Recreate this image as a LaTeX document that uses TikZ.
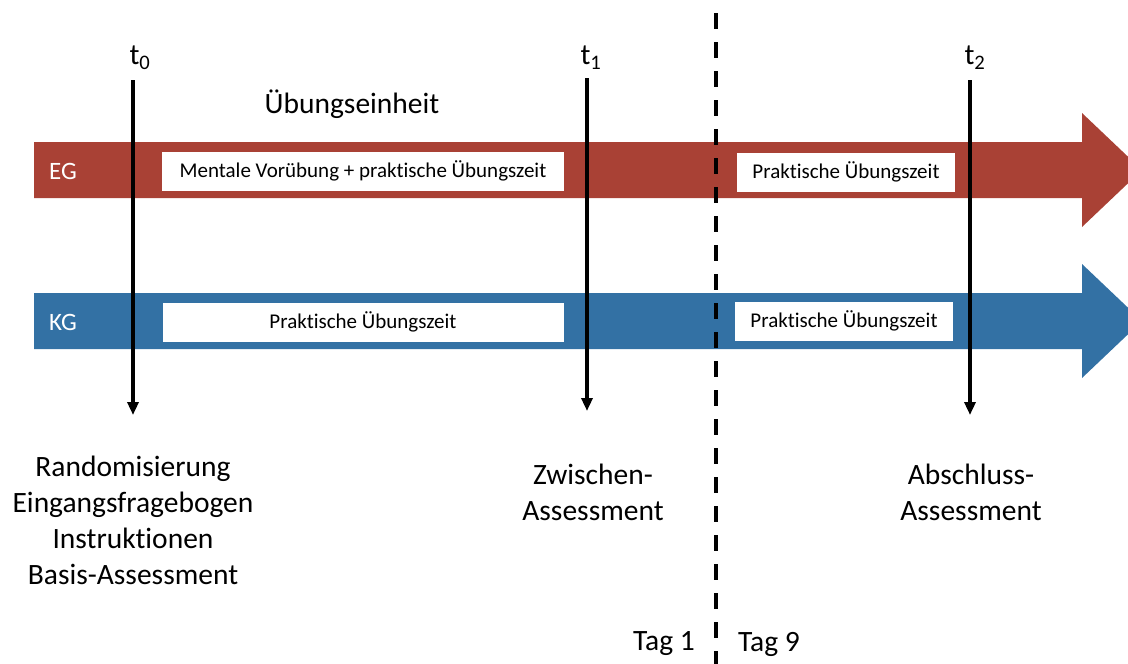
\documentclass[tikz,border=0pt]{standalone}
\usepackage{fontspec}
\setmainfont[Ligatures=NoCommon]{Carlito}
\usetikzlibrary{arrows.meta}
\definecolor{egred}{RGB}{169,65,53}
\definecolor{kgblue}{RGB}{51,113,164}

\begin{document}
\begin{tikzpicture}[x=1pt,y=-1pt,
  every node/.style={inner sep=0pt, outer sep=0pt},
  bigtext/.style={font=\fontsize{29.5}{36}\selectfont, align=center},
  grouplabel/.style={text=white, font=\fontsize{25}{28}\selectfont},
  phasebox/.style={fill=white, minimum height=39pt, font=\fontsize{21}{24}\selectfont},
  timeline/.style={line width=3.5pt, -{Triangle[width=11pt,length=13pt]}},
  dayline/.style={line width=4pt, dash pattern=on 16pt off 13pt, dash phase=16pt}]
\useasboundingbox (0,0) rectangle (1128,664);

\fill[egred] (34,142) -- (1082,142) -- (1082,113) -- (1142,170) -- (1082,227) -- (1082,198) -- (34,198) -- cycle;
\fill[kgblue] (34,293) -- (1082,293) -- (1082,264) -- (1142,321) -- (1082,378) -- (1082,349) -- (34,349) -- cycle;

\node[grouplabel] (eg) at (63,171) {EG};
\node[grouplabel] (kg) at (63,322) {KG};

\node[phasebox, minimum width=402pt] (egphase1) at (363,171) {Mentale Vorübung + praktische Übungszeit};
\node[phasebox, minimum width=218pt] (egphase2) at (846,172) {Praktische Übungszeit};
\node[phasebox, minimum width=401pt] (kgphase1) at (363,322) {Praktische Übungszeit};
\node[phasebox, minimum width=218pt] (kgphase2) at (844,321) {Praktische Übungszeit};

\node[bigtext] (unit) at (352,104) {Übungseinheit};

\node[bigtext] (t0) at (140,58) {t\textsubscript{0}};
\node[bigtext] (t1) at (591,58) {t\textsubscript{1}};
\node[bigtext] (t2) at (975,58) {t\textsubscript{2}};

\coordinate (t0start) at (133,80);
\coordinate (t0end) at (133,415);
\coordinate (t1start) at (587,78);
\coordinate (t1end) at (587,411);
\coordinate (t2start) at (970,80);
\coordinate (t2end) at (970,415);
\draw[timeline] (t0start) -- (t0end);
\draw[timeline] (t1start) -- (t1end);
\draw[timeline] (t2start) -- (t2end);

\coordinate (daytop) at (716,0);
\coordinate (daybottom) at (716,664);
\draw[dayline] (daytop) -- (daybottom);

\node[bigtext] (base) at (133,520) {Randomisierung\\Eingangsfragebogen\\Instruktionen\\Basis-Assessment};
\node[bigtext] (mid) at (593,492) {Zwischen-\\Assessment};
\node[bigtext] (final) at (971,492) {Abschluss-\\Assessment};

\node[bigtext] (day1) at (664,644) {Tag 1};
\node[bigtext] (day9) at (769,644) {Tag 9};
\end{tikzpicture}
\end{document}
